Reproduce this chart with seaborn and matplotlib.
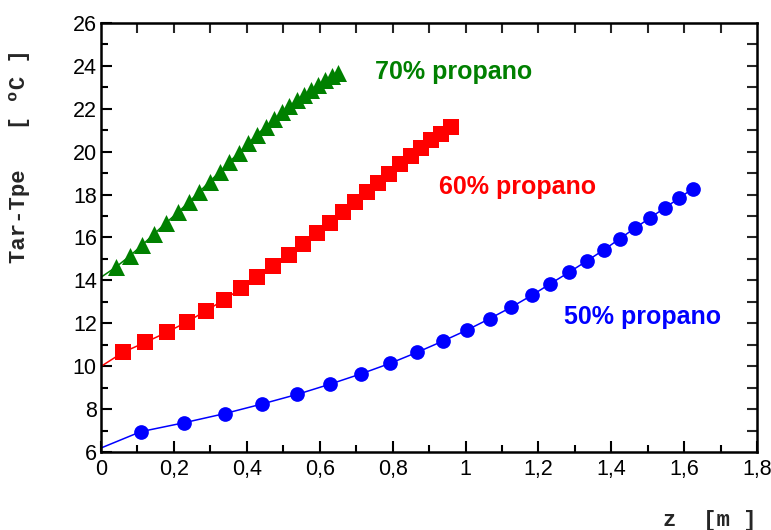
import pandas as pd
import seaborn as sns
import matplotlib.pyplot as plt
from matplotlib.ticker import MultipleLocator, FuncFormatter

# 50% propano (circulos azules)
z50 = [0.109, 0.229, 0.339, 0.442, 0.539, 0.628, 0.713, 0.793, 0.868, 0.937,
       1.004, 1.066, 1.126, 1.182, 1.233, 1.284, 1.333, 1.380, 1.423, 1.465,
       1.506, 1.546, 1.586, 1.623]
t50 = [6.96, 7.38, 7.80, 8.25, 8.70, 9.17, 9.65, 10.14, 10.66, 11.17,
       11.69, 12.22, 12.76, 13.31, 13.85, 14.38, 14.91, 15.43, 15.94, 16.44,
       16.91, 17.37, 17.83, 18.27]

# 60% propano (cuadrados rojos)
z60 = [0.061, 0.122, 0.182, 0.236, 0.288, 0.338, 0.385, 0.428, 0.472, 0.515,
       0.553, 0.593, 0.628, 0.663, 0.696, 0.729, 0.760, 0.790, 0.821, 0.850,
       0.877, 0.906, 0.934, 0.961]
t60 = [10.66, 11.12, 11.60, 12.07, 12.59, 13.10, 13.64, 14.16, 14.66, 15.17,
       15.68, 16.22, 16.69, 17.19, 17.63, 18.12, 18.55, 18.97, 19.41, 19.79,
       20.15, 20.53, 20.82, 21.16]

# 70% propano (triangulos verdes)
z70 = [0.040, 0.079, 0.113, 0.146, 0.179, 0.211, 0.241, 0.270, 0.298, 0.326,
       0.352, 0.379, 0.404, 0.428, 0.452, 0.474, 0.496, 0.517, 0.538, 0.558,
       0.577, 0.596, 0.615, 0.633, 0.650]
t70 = [14.61, 15.14, 15.65, 16.17, 16.69, 17.17, 17.65, 18.13, 18.60, 19.06,
       19.52, 19.95, 20.39, 20.79, 21.16, 21.50, 21.82, 22.11, 22.39, 22.64,
       22.88, 23.10, 23.31, 23.50, 23.67]

# valor de la curva ajustada en z = 0
t0 = {'50': 6.2, '60': 10.0, '70': 14.15}

series = [
    ('50', z50, t50, 'blue', 'o', 112, '50% propano', 1.269, 12.31),
    ('60', z60, t60, 'red', 's', 130, '60% propano', 0.928, 18.36),
    ('70', z70, t70, 'green', '^', 150, '70% propano', 0.752, 23.72),
]

sns.set_style('ticks')
plt.rcParams['font.family'] = ['Liberation Sans', 'DejaVu Sans']

fig = plt.figure(figsize=(7.71, 5.30), dpi=100)
ax = fig.add_axes([0.131, 0.1466, 0.851, 0.8106])

for key, z, t, col, mk, s, label, lx, ly in series:
    curve = pd.DataFrame({'z': [0.0] + z, 'dT': [t0[key]] + t})
    pts = pd.DataFrame({'z': z, 'dT': t})
    sns.lineplot(data=curve, x='z', y='dT', color=col, lw=1.1, sort=False,
                 estimator=None, ax=ax)
    sns.scatterplot(data=pts, x='z', y='dT', marker=mk, s=s, color=col,
                    linewidth=0, ax=ax, zorder=3)
    ax.text(lx, ly, label, color=col, fontsize=18, fontweight='bold',
            ha='left', va='center')

ax.set_xlim(0, 1.8)
ax.set_ylim(6, 26)
ax.xaxis.set_major_locator(MultipleLocator(0.2))
ax.xaxis.set_minor_locator(MultipleLocator(0.1))
ax.yaxis.set_major_locator(MultipleLocator(2))
ax.yaxis.set_minor_locator(MultipleLocator(1))
ax.xaxis.set_major_formatter(FuncFormatter(lambda v, p: f'{v:g}'.replace('.', ',')))

ax.tick_params(which='both', direction='in', width=1.5, labelsize=15.5,
               color='black', labelcolor='black')
ax.tick_params(which='major', length=8)
ax.tick_params(which='minor', length=5)
ax.tick_params(axis='x', pad=5)
ax.tick_params(axis='y', pad=3)
for sp in ax.spines.values():
    sp.set_visible(True)
    sp.set_linewidth(1.8)
    sp.set_color('black')

# marcas en los ejes superior y derecho
top = ax.secondary_xaxis('top')
top.set_xticks([i / 10 for i in range(1, 18)])
top.tick_params(direction='in', length=7.5, width=1.5, labeltop=False)
right = ax.secondary_yaxis('right')
right.set_yticks(list(range(7, 26)))
right.tick_params(direction='in', length=7.5, width=1.5, labelright=False)

ax.set_xlabel('z  [m ]', family='Liberation Mono', fontweight='bold', fontsize=16)
ax.xaxis.set_label_coords(0.928, -0.135)
ax.set_ylabel('Tar-Tpe   [ ºC ]', family='Liberation Mono', fontweight='bold',
              fontsize=16)
ax.yaxis.set_label_coords(-0.108, 0.69)

fig.savefig('out.png', dpi=100)
